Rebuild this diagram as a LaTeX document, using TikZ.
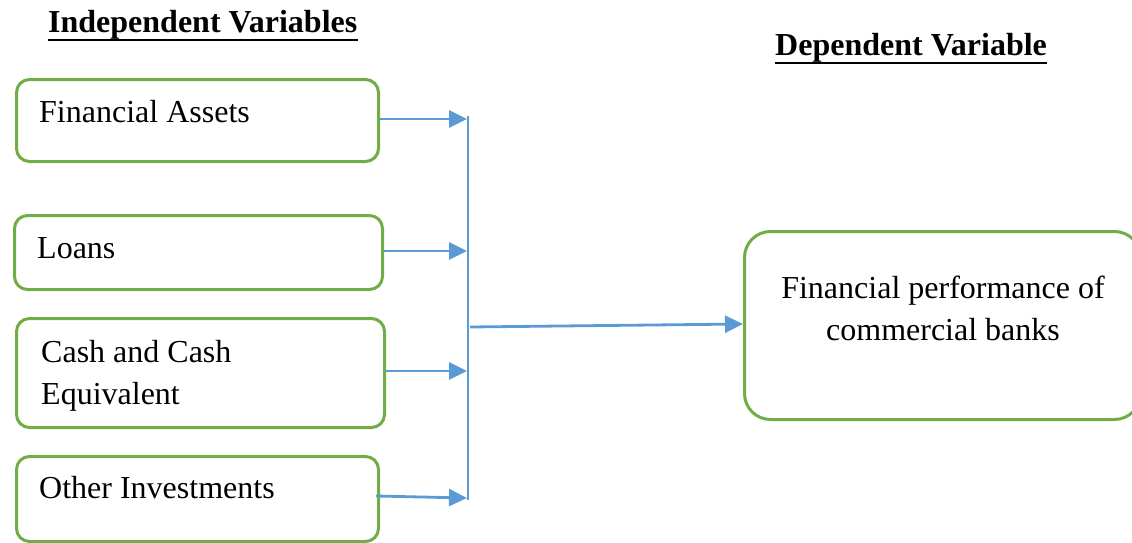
\documentclass[tikz,border=0pt]{standalone}
\usepackage{fontspec}
\setmainfont{Liberation Serif}
\usetikzlibrary{arrows.meta}
\definecolor{boxgreen}{RGB}{112,173,71}
\definecolor{arrowblue}{RGB}{91,155,213}
\tikzset{
  ivbox/.style={draw=boxgreen, line width=3pt, rounded corners=13pt, anchor=north west, inner sep=0pt},
  dvbox/.style={draw=boxgreen, line width=3pt, rounded corners=26pt, anchor=north west, inner sep=0pt},
  lbl/.style={font=\fontsize{32}{42}\selectfont, anchor=base west, inner sep=0pt},
  head/.style={font=\fontsize{32}{42}\selectfont\bfseries, anchor=base west, inner sep=0pt},
  conn/.style={draw=arrowblue, line width=2.8pt, -{Triangle[length=18pt,width=17pt]}},
  bus/.style={draw=arrowblue, line width=1.6pt}
}
\begin{document}
\begin{tikzpicture}[x=1pt,y=-1pt]
\useasboundingbox (0,0) rectangle (1132,543);
% headings
\node[head] (hind) at (48,33) {Independent Variables};
\draw[line width=1.8pt] ([yshift=-7pt]hind.base west) -- ([yshift=-7pt]hind.base east);
\node[head] (hdep) at (775,56) {Dependent Variable};
\draw[line width=1.8pt] ([yshift=-7pt]hdep.base west) -- ([yshift=-7pt]hdep.base east);
% independent boxes
\node[ivbox, minimum width=362pt, minimum height=82pt] (b1) at (15,78) {};
\node[ivbox, minimum width=368pt, minimum height=74pt] (b2) at (13,214) {};
\node[ivbox, minimum width=368pt, minimum height=109pt] (b3) at (15,317) {};
\node[ivbox, minimum width=362pt, minimum height=85pt] (b4) at (15,455) {};
\node[lbl] (t1) at (39,122) {Financial Assets};
\node[lbl] (t2) at (37,258) {Loans};
\node[lbl] (t3a) at (41,362) {Cash and Cash};
\node[lbl] (t3b) at (41,404) {Equivalent};
\node[lbl] (t4) at (39,498) {Other Investments};
% dependent box
\node[dvbox, minimum width=396pt, minimum height=188pt] (dv) at (743,230) {};
\node[font=\fontsize{32}{42}\selectfont, align=center, anchor=base, inner sep=0pt] (tdv) at (943,340) {Financial performance of\\commercial banks};
% bus
\coordinate (v1) at (468,116);
\coordinate (v2) at (468,500);
\draw[bus] (v1) -- (v2);
\coordinate (j1) at (467,119);
\coordinate (j2) at (467,251);
\coordinate (j3) at (467,371);
\coordinate (j4) at (467,498);
\coordinate (s4) at (376,496);
\draw[conn] (b1.east |- j1) -- (j1);
\draw[conn] (b2.east |- j2) -- (j2);
\draw[conn] (b3.east |- j3) -- (j3);
\draw[conn] (s4) -- (j4);
\coordinate (m) at (470,327);
\draw[conn] (m) -- (dv.west |- 0,324);
\end{tikzpicture}
\end{document}
